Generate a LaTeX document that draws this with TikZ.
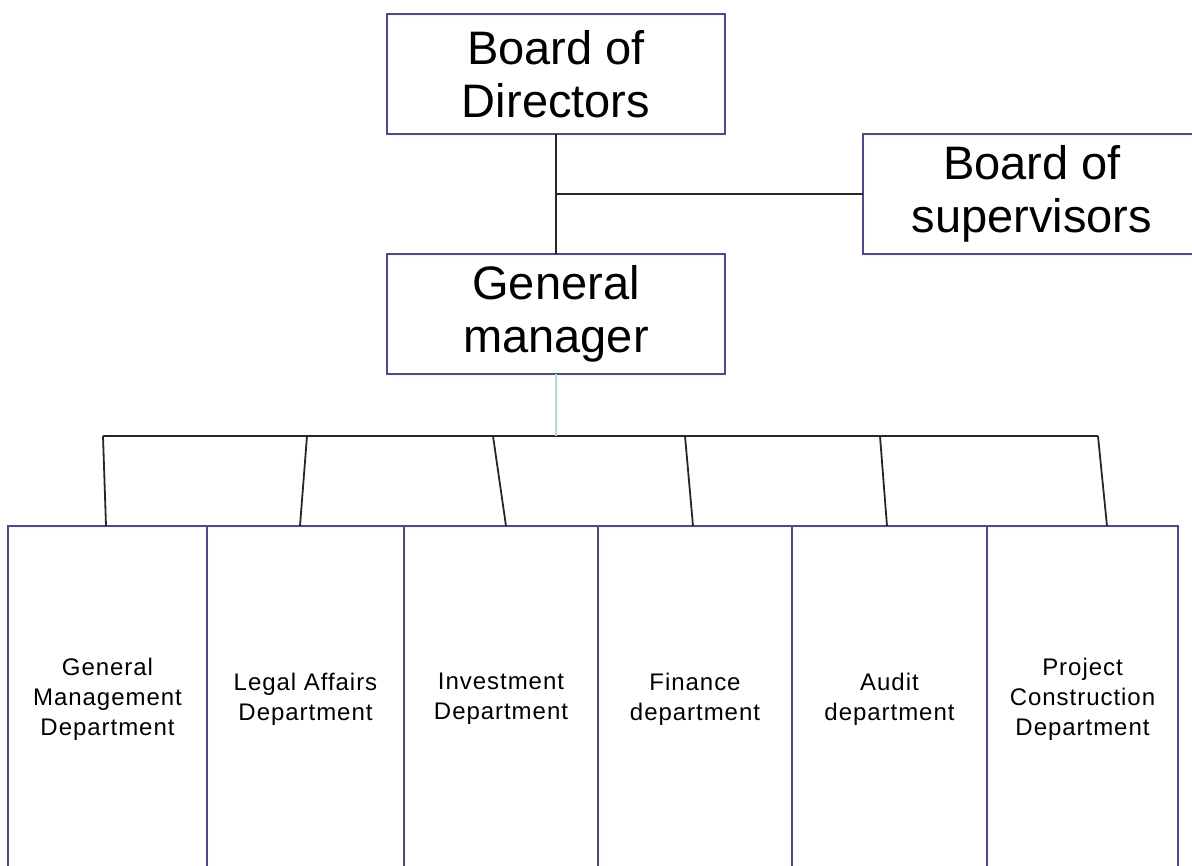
\documentclass[tikz,border=0pt]{standalone}
\usepackage{fontspec}
\setmainfont{Liberation Sans}
\newfontfamily\deptfont[LetterSpace=4]{Liberation Sans}
\usepackage{xcolor}
\usepackage{tikz}
\usetikzlibrary{positioning,calc}

\definecolor{boxblue}{RGB}{72,72,160}
\definecolor{paleline}{RGB}{170,218,224}

\begin{document}
\begin{tikzpicture}[
  x=1pt, y=-1pt,
  topbox/.style={draw=boxblue, line width=1.7pt, minimum width=338pt, minimum height=120pt,
    inner sep=0pt, outer sep=0pt, align=center, font=\fontsize{47}{53}\selectfont},
  deptbox/.style={draw=boxblue, line width=1.7pt, minimum width=#1, minimum height=346pt,
    inner sep=0pt, outer sep=0pt, align=center, font=\deptfont\fontsize{24}{30}\selectfont},
  deptbox/.default=195pt,
  link/.style={black!85, line width=1.8pt},
  node distance=0pt
]
\useasboundingbox (0,0) rectangle (1192,866);
\node[topbox] (bod) at (556,74) {Board of\\Directors};
\node[topbox, below=120pt of bod] (gm) {General\\manager};
\node[topbox, below right=0pt and 138pt of bod.south east, anchor=north west] (sup) {Board of\\supervisors};
% departments, side by side
\node[deptbox=199pt, anchor=north west] (d1) at (8,526) {General\\Management\\Department};
\node[deptbox=197pt, right=of d1] (d2) {Legal Affairs\\Department};
\node[deptbox=194pt, right=of d2] (d3) {Investment\\Department};
\node[deptbox=194pt, right=of d3] (d4) {Finance\\department};
\node[deptbox=195pt, right=of d4] (d5) {Audit\\department};
\node[deptbox=191pt, right=of d5] (d6) {Project\\Construction\\Department};
\draw[link] (bod) -- (gm);
\draw[link] (sup.west) -- (sup.west -| bod.south);
\foreach \i/\tx/\dx in {1/103/-1.5, 2/307/-5.5, 3/493/5, 4/685/-2, 5/880/-2.5, 6/1098/24.5} {
  \coordinate (t\i) at (\tx,436);
  \draw[link] (t\i) -- ($(d\i.north)+(\dx,0)$);
}
\draw[link] (t1) -- (t6);
\draw[paleline, line width=1.5pt] (gm.south) -- (gm.south |- t1);
\end{tikzpicture}
\end{document}
